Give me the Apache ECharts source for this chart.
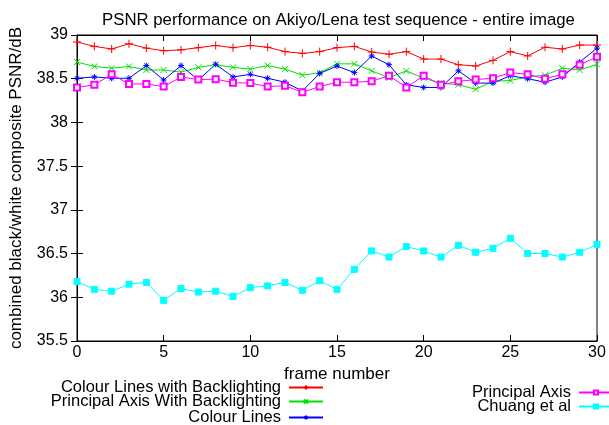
<!DOCTYPE html>
<html>
<head>
<meta charset="utf-8">
<script src="https://cdn.jsdelivr.net/npm/echarts@6/dist/echarts.min.js"></script>
<style>
  html, body { margin: 0; padding: 0; background: #fff; }
  #chart { width: 609px; height: 425px; }
</style>
</head>
<body>
<div id="chart"></div>
<script>
// Frame indices along the x axis
const frames = [0, 1, 2, 3, 4, 5, 6, 7, 8, 9, 10, 11, 12, 13, 14, 15,
                16, 17, 18, 19, 20, 21, 22, 23, 24, 25, 26, 27, 28, 29, 30];

// PSNR (dB) per frame for each method
const colourLinesBacklit = [38.92, 38.87, 38.84, 38.90, 38.85, 38.82, 38.83, 38.855, 38.88, 38.855, 38.88,
  38.86, 38.81, 38.79, 38.81, 38.855, 38.87, 38.805, 38.78, 38.81, 38.725,
  38.725, 38.66, 38.645, 38.71, 38.81, 38.76, 38.86, 38.84, 38.885, 38.885];

const principalAxisBacklit = [38.69, 38.64, 38.62, 38.64, 38.60, 38.60, 38.575, 38.63, 38.66, 38.63, 38.61,
  38.65, 38.61, 38.54, 38.57, 38.67, 38.67, 38.59, 38.51, 38.59, 38.505,
  38.45, 38.43, 38.38, 38.47, 38.48, 38.52, 38.54, 38.62, 38.60, 38.665];

const colourLines = [38.505, 38.52, 38.505, 38.505, 38.65, 38.485, 38.65, 38.485, 38.665, 38.52, 38.55,
  38.505, 38.46, 38.36, 38.56, 38.645, 38.57, 38.76, 38.66, 38.43, 38.40,
  38.40, 38.59, 38.45, 38.45, 38.535, 38.50, 38.46, 38.52, 38.69, 38.85];

const principalAxis = [38.40, 38.43, 38.55, 38.44, 38.44, 38.41, 38.52, 38.49, 38.495, 38.455, 38.45,
  38.41, 38.42, 38.345, 38.41, 38.46, 38.46, 38.47, 38.535, 38.40, 38.535,
  38.43, 38.47, 38.49, 38.505, 38.57, 38.55, 38.50, 38.55, 38.66, 38.75];

const chuang = [36.18, 36.09, 36.07, 36.15, 36.17, 35.965, 36.10, 36.06, 36.07, 36.01, 36.11,
  36.13, 36.17, 36.08, 36.19, 36.09, 36.32, 36.53, 36.46, 36.58, 36.53,
  36.46, 36.595, 36.515, 36.56, 36.675, 36.50, 36.50, 36.46, 36.515, 36.605];

const seriesNames = [
  'Colour Lines with Backlighting',
  'Principal Axis With Backlighting',
  'Colour Lines',
  'Principal Axis',
  'Chuang et al'
];

const FONT = '"Liberation Sans", Arial, Helvetica, sans-serif';

// Point markers: plus, cross, asterisk
const PLUS = 'path://M5,0L5,10M0,5L10,5';
const CROSS = 'path://M0,0L10,10M10,0L0,10';
const STAR = 'path://M5,0L5,10M0,5L10,5M1.5,1.5L8.5,8.5M8.5,1.5L1.5,8.5';

function pairs(values) {
  return frames.map((f, i) => [f, values[i]]);
}

function lineSeries(name, values, color, symbol, size) {
  return {
    name: name,
    type: 'line',
    data: pairs(values),
    symbol: symbol,
    symbolSize: size,
    showAllSymbol: true,
    animation: false,
    lineStyle: { color: color, width: 1 },
    itemStyle: { color: color, borderColor: color, borderWidth: 1 },
    emphasis: { disabled: true }
  };
}

// One key entry per legend box: text on the left, line sample on the right
function keyEntry(name, right, top) {
  return {
    data: [name],
    orient: 'horizontal',
    align: 'right',
    right: right,
    top: top,
    itemWidth: 34,
    itemHeight: 5,
    padding: 0,
    selectedMode: false,
    textStyle: { fontFamily: FONT, fontSize: 16.5, color: '#000', lineHeight: 15, padding: [0, 3, 0, 0] }
  };
}

const chart = echarts.init(document.getElementById('chart'), null, { renderer: 'canvas' });

const axisCommon = {
  axisLine: { show: true, lineStyle: { color: '#000', width: 1 } },
  axisTick: { show: true, inside: true, length: 6, lineStyle: { color: '#000', width: 1 } },
  splitLine: { show: false }
};

chart.setOption({
  backgroundColor: '#fff',
  animation: false,
  textStyle: { fontFamily: FONT },
  title: {
    text: 'PSNR performance on Akiyo/Lena test sequence - entire image',
    left: 97,
    top: 7,
    textStyle: { fontFamily: FONT, fontSize: 16.8, fontWeight: 'normal', color: '#000' }
  },
  grid: {
    left: 77, right: 12, top: 35, bottom: 84,
    show: true, borderColor: '#000', borderWidth: 1, backgroundColor: 'transparent'
  },
  legend: [
    keyEntry(seriesNames[0], 285, 379),
    keyEntry(seriesNames[1], 285, 393),
    keyEntry(seriesNames[2], 285, 409),
    keyEntry(seriesNames[3], -5, 384),
    keyEntry(seriesNames[4], -5, 398)
  ],
  xAxis: [
    Object.assign({
      type: 'value', min: 0, max: 30, interval: 5, position: 'bottom',
      name: 'frame number', nameLocation: 'middle', nameGap: 23,
      nameTextStyle: { fontFamily: FONT, fontSize: 17, color: '#000' },
      axisLabel: { fontFamily: FONT, fontSize: 16, color: '#000', margin: 4 }
    }, axisCommon),
    Object.assign({
      type: 'value', min: 0, max: 30, interval: 5, position: 'top',
      axisLabel: { show: false }
    }, axisCommon)
  ],
  yAxis: [
    Object.assign({
      type: 'value', min: 35.5, max: 39, interval: 0.5, position: 'left',
      name: 'combined black/white composite PSNR/dB', nameLocation: 'middle', nameGap: 52,
      nameTextStyle: { fontFamily: FONT, fontSize: 17, color: '#000' },
      axisLabel: { fontFamily: FONT, fontSize: 16, color: '#000', margin: 9 }
    }, axisCommon),
    Object.assign({
      type: 'value', min: 35.5, max: 39, interval: 0.5, position: 'right',
      axisLabel: { show: false }
    }, axisCommon)
  ],
  series: [
    lineSeries(seriesNames[0], colourLinesBacklit, '#ff0000', PLUS, 8),
    lineSeries(seriesNames[1], principalAxisBacklit, '#00e000', CROSS, 6),
    lineSeries(seriesNames[2], colourLines, '#0000ff', STAR, 6),
    lineSeries(seriesNames[3], principalAxis, '#ff00ff', 'emptyRect', 6),
    lineSeries(seriesNames[4], chuang, '#00ffff', 'rect', 6)
  ]
});
</script>
</body>
</html>
